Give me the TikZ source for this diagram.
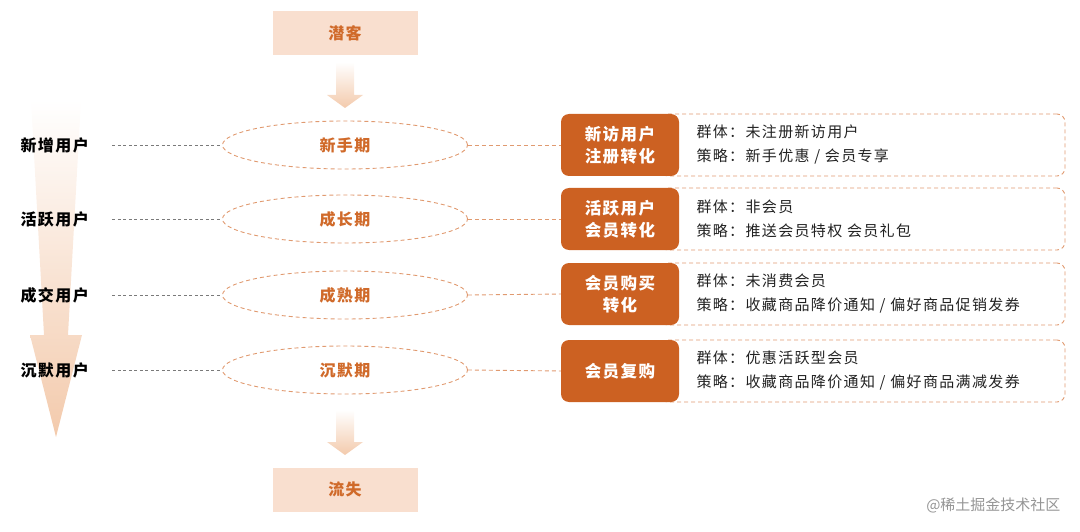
\documentclass[tikz,border=0pt]{standalone}
\usepackage{fontspec}
\setmainfont{Noto Sans CJK SC}
\usetikzlibrary{shapes.geometric,positioning,calc}

\definecolor{boxorange}{HTML}{CC6122}
\definecolor{peach}{HTML}{F9DFCF}
\definecolor{arrowpeach}{HTML}{F3CAAC}
\definecolor{textorange}{HTML}{D06A2A}
\definecolor{dashorange}{HTML}{E09A70}
\definecolor{linegray}{HTML}{7A7A7A}
\definecolor{bodytext}{HTML}{222222}

\newcommand{\spaced}[1]{\addfontfeatures{LetterSpace=9}#1}

\begin{document}
\begin{tikzpicture}[x=1pt,y=-1pt,
  flowbox/.style={fill=peach, minimum width=145pt, minimum height=44pt, text=textorange, font=\fontsize{16}{18}\selectfont\bfseries\spaced},
  stage/.style={ellipse, draw=dashorange, line width=0.9pt, dash pattern=on 4pt off 3pt, minimum width=245pt, minimum height=48pt, text=textorange, font=\fontsize{16}{18}\selectfont\bfseries\spaced},
  userlabel/.style={anchor=west, font=\fontsize{16}{18}\selectfont\bfseries\spaced},
  convbox/.style={fill=boxorange, rounded corners=8pt, minimum width=118pt, minimum height=62pt, text=white, align=center, font=\fontsize{16.5}{22}\selectfont\bfseries\spaced},
  infobox/.style={draw=dashorange, line width=0.9pt, dash pattern=on 4pt off 3pt, rounded corners=8pt, minimum width=405pt, minimum height=62pt},
  infotext/.style={anchor=west, text=bodytext, align=left, font=\fontsize{15}{24}\selectfont\spaced},
  graydash/.style={draw=linegray, line width=0.9pt, dash pattern=on 3pt off 2.5pt},
  orangedash/.style={draw=dashorange, line width=0.9pt, dash pattern=on 4pt off 3pt}]
\useasboundingbox (0,0) rectangle (1080,532);

% funnel arrow on the left
\shade[top color=white, bottom color=arrowpeach] (31,100) -- (81,100) -- (68,335) -- (82,335) -- (56,437) -- (30,335) -- (44,335) -- cycle;

% top and bottom boxes
\node[flowbox] (lead) at (345,33) {潜客};
\node[flowbox] (lost) at (345,489.5) {流失};

% stages
\foreach \name/\txt/\y in {s1/新手期/145, s2/成长期/219, s3/成熟期/295, s4/沉默期/370}
  \node[stage] (\name) at (345,\y) {\txt};

% small arrows
\shade[top color=white, bottom color=arrowpeach] (336,62) -- (354,62) -- (354,95) -- (363,95) -- (345,108) -- (327,95) -- (336,95) -- cycle;
\shade[top color=white, bottom color=arrowpeach] (336,410) -- (354,410) -- (354,442) -- (363,442) -- (345,455) -- (327,442) -- (336,442) -- cycle;

% user labels
\foreach \name/\txt/\y in {u1/新增用户/145, u2/活跃用户/219, u3/成交用户/295, u4/沉默用户/370}
  \node[userlabel] (\name) at (17,\y) {\txt};
\foreach \i in {1,...,4}
  \draw[graydash] ([xshift=20pt]u\i.east) -- (s\i.west);

% info boxes
\foreach \name/\y in {i1/145, i2/219, i3/294, i4/371}
  \node[infobox] (\name) at (862.5,\y) {};

\node[convbox] (c1) at (620,145) {新访用户\\注册转化};
\node[convbox] (c2) at (620,219) {活跃用户\\会员转化};
\node[convbox] (c3) at (620,294) {会员购买\\转化};
\node[convbox] (c4) at (620,371) {会员复购};

\foreach \i in {1,...,4}
  \draw[orangedash] (s\i.east) -- (c\i.west);

\node[infotext] (t1) at (693,145) {群体：未注册新访用户\\策略：新手优惠 / 会员专享};
\node[infotext] (t2) at (693,219) {群体：非会员\\策略：推送会员特权 会员礼包};
\node[infotext] (t3) at (693,294) {群体：未消费会员\\策略：收藏商品降价通知 / 偏好商品促销发券};
\node[infotext] (t4) at (693,371) {群体：优惠活跃型会员\\策略：收藏商品降价通知 / 偏好商品满减发券};

% source mark
\node[anchor=east, text=linegray!80, font=\fontsize{15}{18}\selectfont] (mark) at (1064,505) {@稀土掘金技术社区};
\end{tikzpicture}
\end{document}
